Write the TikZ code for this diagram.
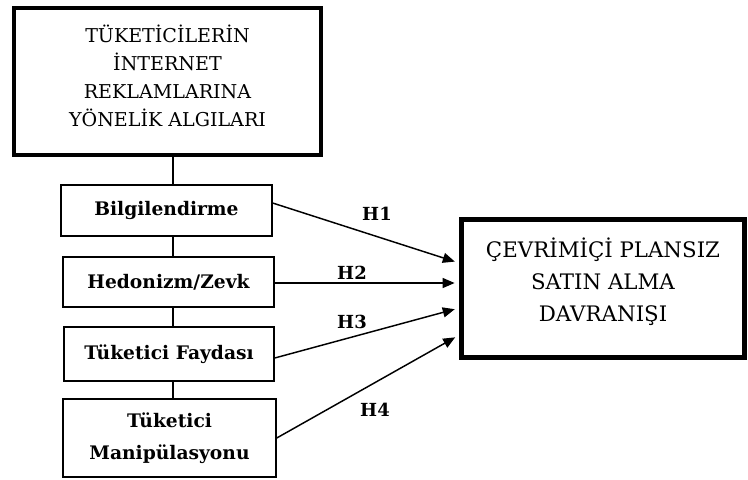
\documentclass[tikz,border=0pt]{standalone}
\usepackage{fontspec}
\setmainfont{DejaVu Serif}
\usetikzlibrary{arrows.meta}
\begin{document}
\begin{tikzpicture}[x=0.75pt,y=-0.75pt,
  topbox/.style={draw, line width=2.8pt, minimum width=230pt, minimum height=110pt, inner sep=0pt},
  factor/.style={draw, line width=1.1pt, align=center, inner sep=0pt, font=\bfseries\fontsize{14}{24}\selectfont},
  outbox/.style={draw, line width=3.6pt, minimum width=212pt, minimum height=103pt, inner sep=0pt},
  bigtext/.style={align=center, inner sep=0pt},
  link/.style={line width=1.1pt},
  hyp/.style={line width=1.1pt, -{Triangle[length=9pt,width=7.5pt]}, shorten >=3.5pt},
  hlab/.style={font=\bfseries\fontsize{13.5}{16}\selectfont, inner sep=0pt}]
\useasboundingbox (0,0) rectangle (748,479);

\node[topbox] (top) at (167.5,81.5) {};
\node[bigtext, font=\fontsize{14.3}{21}\selectfont] (toptext) at (167.5,76)
  {TÜKETİCİLERİN\\İNTERNET\\REKLAMLARINA\\YÖNELİK ALGILARI};

\node[factor, minimum width=158.25pt, minimum height=38.25pt] (bilg) at (166.5,210.5) {Bilgilendirme};
\node[factor, minimum width=158.25pt, minimum height=37.5pt] (hed) at (168.5,282) {Hedonizm/Zevk};
\node[factor, minimum width=157.5pt, minimum height=40.5pt] (tf) at (169,354) {Tüketici Faydası};
\node[factor, minimum width=159.75pt, minimum height=58.5pt] (tm) at (169.5,438) {Tüketici\\Manipülasyonu};

\node[outbox] (out) at (603,288.5) {};
\node[bigtext, font=\fontsize{16}{24}\selectfont] (outtext) at (603,281.5)
  {ÇEVRİMİÇİ PLANSIZ\\SATIN ALMA\\DAVRANIŞI};

\coordinate (vx) at (173,0);
\draw[link] (top.south -| vx) -- (bilg.north -| vx);
\draw[link] (bilg.south -| vx) -- (hed.north -| vx);
\draw[link] (hed.south -| vx) -- (tf.north -| vx);
\draw[link] (tf.south -| vx) -- (tm.north -| vx);

\draw[hyp] ([yshift=5.6pt]bilg.east) -- ([yshift=19.1pt]out.west);
\draw[hyp] ([yshift=-0.75pt]hed.east) -- ([yshift=-0.75pt]hed.east -| out.west);
\draw[hyp] ([yshift=-3pt]tf.east) -- ([yshift=-14.6pt]out.west);
\draw[hyp] (tm.east) -- ([yshift=-34.9pt]out.west);

\node[hlab] (h1) at (377,214) {H1};
\node[hlab] (h2) at (352,273) {H2};
\node[hlab] (h3) at (352,322) {H3};
\node[hlab] (h4) at (375,410) {H4};
\end{tikzpicture}
\end{document}
